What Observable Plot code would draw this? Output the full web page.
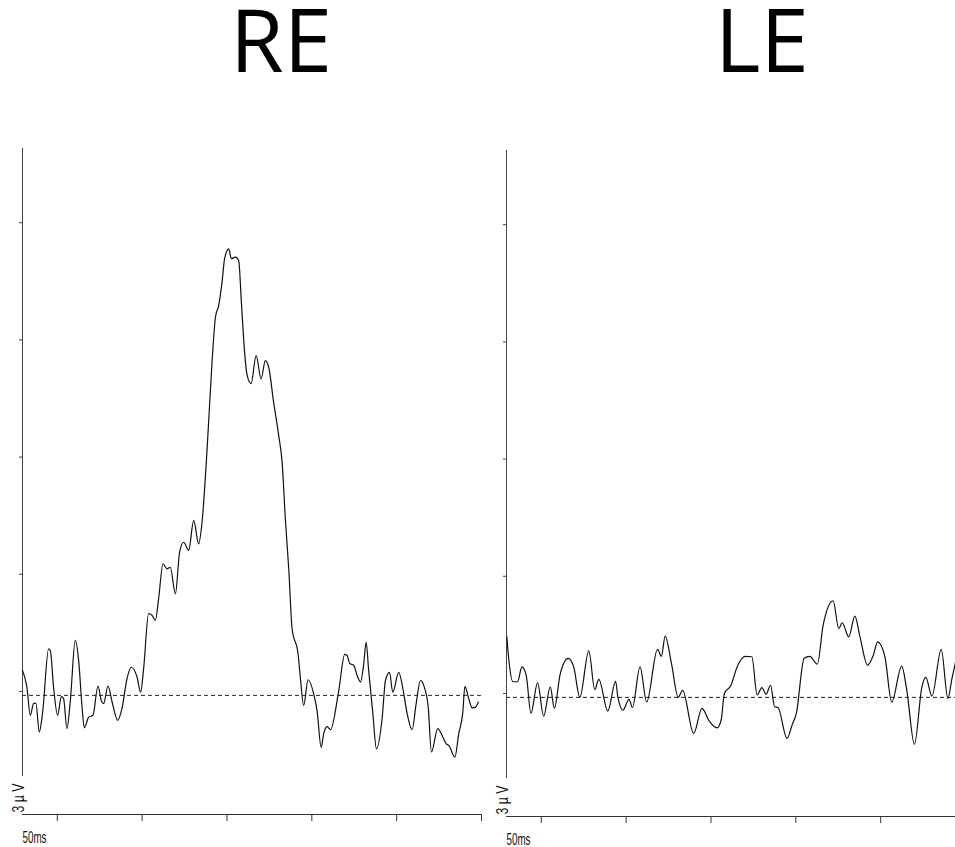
<!DOCTYPE html>
<html><head><meta charset="utf-8">
<script src="https://cdn.jsdelivr.net/npm/d3@7"></script>
<script src="https://cdn.jsdelivr.net/npm/@observablehq/plot@0.6"></script>
<style>
html,body{margin:0;padding:0;background:#fff;overflow:hidden;width:955px;height:847px;}
#page{position:relative;width:955px;height:847px;}
.title{position:absolute;width:200px;text-align:center;font-family:"Open Sans";font-size:87px;line-height:70px;top:3px;color:#000;}
.panel{position:absolute;}
</style></head><body>
<div id="page">
 <div class="title" style="left:181px">RE</div>
 <div class="title" style="left:662px">LE</div>
 <div class="panel" id="re" style="left:0;top:100px"></div>
 <div class="panel" id="le" style="left:484px;top:102px"></div>
</div>
<script>
// Right eye trace: time (ms) and amplitude (µV)
const reTime = [-20.5,-17.9,-15.9,-14.0,-12.6,-10.6,-8.7,-5.1,-4.1,-2.2,
 0.2,2.4,3.7,5.7,7.7,10.6,12.6,14.6,15.9,18.5,
 21.0,24.0,25.9,27.3,29.9,32.3,35.6,38.1,41.1,43.6,
 47.0,49.1,50.9,53.8,55.8,57.8,59.7,62.3,64.7,66.6,
 69.6,72.1,74.5,77.4,80.4,83.3,85.3,88.3,91.2,93.2,
 95.1,97.1,98.6,101.0,102.6,105.0,106.9,108.5,110.4,111.9,
 114.2,117.2,120.1,122.6,124.6,127.5,130.5,132.5,134.4,136.4,
 138.4,141.9,143.3,145.2,147.8,151.1,153.1,155.5,157.0,159.0,
 161.0,165.9,169.4,170.8,172.3,174.7,176.7,178.7,180.6,182.0,
 183.5,185.9,188.1,191.5,193.4,195.8,197.7,201.2,204.2,206.2,
 209.1,211.5,214.0,216.0,218.6,220.5,224.2,226.8,229.2,230.7,
 234.3,236.6,239.0,240.2,242.5,244.5,246.5,248.1];
const reUv = [0.54,0.11,-0.61,-0.31,-0.30,-1.04,-0.56,1.09,1.05,0.11,
 -0.61,-0.13,-0.18,-0.95,-0.23,1.31,0.79,-0.40,-0.93,-0.66,
 -0.61,0.14,-0.23,-0.31,0.14,-0.27,-0.74,-0.44,0.33,0.62,
 0.37,-0.02,0.59,1.99,1.95,1.82,2.37,3.27,3.14,3.18,
 2.50,3.57,3.82,3.61,4.38,3.78,4.33,6.21,8.43,9.58,
 9.88,10.48,11.08,11.33,11.08,11.12,11.03,9.96,8.68,8.09,
 7.88,8.60,8.00,8.47,8.30,7.40,6.55,5.87,4.42,3.14,
 1.60,0.96,0.33,-0.36,0.30,-0.06,-0.49,-1.43,-1.08,-0.90,
 -0.98,0.03,0.95,0.92,0.72,0.67,0.41,0.24,0.71,1.26,
 0.54,-0.53,-1.47,-0.66,0.28,0.49,-0.02,0.49,-0.06,-0.57,
 -0.98,-0.31,0.28,0.15,-0.40,-1.55,-0.95,-1.13,-1.34,-1.38,
 -1.68,-1.08,-0.53,0.13,-0.19,-0.42,-0.40,-0.27];

// Left eye trace
const leTime = [-20.3,-19.3,-16.7,-14.0,-11.4,-8.9,-6.1,-2.2,1.4,5.3,
 7.7,11.2,15.8,19.1,22.7,28.0,31.5,33.9,39.2,43.8,
 45.1,48.1,51.7,53.7,58.2,62.1,68.5,70.8,73.0,76.7,
 80.7,83.3,89.8,94.7,99.0,103.6,106.0,107.9,111.8,115.4,
 120.1,124.1,127.2,130.0,132.5,135.1,137.5,139.5,144.8,147.8,
 150.3,154.9,158.2,162.7,166.1,172.0,175.3,177.3,181.2,184.8,
 187.8,192.3,195.7,198.2,202.5,206.5,212.4,215.4,219.9,224.3,
 226.6,230.2,235.7,239.6,242.0,245.0];
const leUv = [1.45,0.94,0.30,0.30,0.68,0.47,-0.51,0.27,-0.58,0.17,
 -0.38,0.51,0.90,0.68,-0.10,1.09,0.10,0.36,-0.45,0.31,
 -0.09,-0.43,-0.15,-0.36,0.68,-0.22,1.13,0.95,1.47,0.77,
 -0.10,0.08,-1.02,-0.38,-0.71,-0.88,-0.68,0.00,0.21,0.68,
 0.95,0.94,-0.04,0.15,-0.02,0.21,-0.34,-0.36,-1.15,-0.81,
 -0.51,0.90,0.95,0.75,1.75,2.37,1.66,1.81,1.45,1.98,
 1.45,0.72,0.98,1.32,0.94,-0.22,0.70,0.08,-1.30,0.17,
 0.41,-0.07,1.13,-0.13,0.38,0.98];

const titles = ["RE", "LE"];
const yTicks = [0, 3, 6, 9, 12];
const reXTicks = [0, 50, 100, 150, 200, 250];
const leXTicks = [0, 50, 100, 150, 200];
const reXDomain = [-20.5, 250];
const leXDomain = [-20.5, 244.1];
const yDomain = [-3.15, 13.90];
const yAxisBottom = -2.18;
const baseline = -0.1;
const timeLabel = "50ms";
const ampLabel = "3 \u00b5 V";
const ampLabelY = -2.73;

function panel(time, uv, xDomain, xTicks, width, marginRight) {
  const data = time.map((t, i) => ({t, v: uv[i]}));
  const plot = Plot.plot({
    width, height: 747,
    marginTop: 48, marginBottom: 33, marginLeft: 22, marginRight,
    x: {domain: xDomain},
    y: {domain: yDomain},
    style: {background: "transparent", overflow: "visible"},
    marks: [
      Plot.ruleY([baseline], {stroke: "#222", strokeWidth: 1, strokeDasharray: "4,3"}),
      Plot.ruleX([xDomain[0]], {y1: yAxisBottom, y2: yDomain[1], stroke: "#444"}),
      Plot.axisY({ticks: yTicks, tickSize: 3, tickFormat: () => "", label: null, stroke: "#444"}),
      Plot.ruleY([yDomain[0]], {stroke: "#333"}),
      Plot.axisX({ticks: xTicks, tickSize: 7, tickFormat: () => "", label: null, stroke: "#333"}),
      Plot.lineY(data, {x: "t", y: "v", curve: "monotone-x", stroke: "#111", strokeWidth: 1.2}),
      Plot.text([timeLabel], {text: d => d, x: xDomain[0], frameAnchor: "bottom", dy: 28,
        textAnchor: "start", lineAnchor: "bottom", fontSize: 17,
        fontFamily: "Liberation Sans, sans-serif", fill: "#111"}),
      Plot.text([ampLabel], {text: d => d, x: xDomain[0], y: ampLabelY, dx: -4, rotate: -90,
        textAnchor: "middle", lineAnchor: "middle", fontSize: 17,
        fontFamily: "Liberation Sans, sans-serif", fill: "#111"})
    ]
  });
  plot.querySelectorAll("text").forEach(el => {
    if (el.textContent === timeLabel) {
      el.setAttribute("textLength", 24); el.setAttribute("lengthAdjust", "spacingAndGlyphs");
    } else if (el.textContent === ampLabel) {
      el.setAttribute("textLength", 29); el.setAttribute("lengthAdjust", "spacingAndGlyphs");
    }
  });
  return plot;
}

document.getElementById("re").appendChild(panel(reTime, reUv, reXDomain, reXTicks, 490, 9));
document.getElementById("le").appendChild(panel(leTime, leUv, leXDomain, leXTicks, 471, 0));
document.querySelectorAll(".title").forEach((el, i) => el.textContent = titles[i]);
</script>
</body></html>
